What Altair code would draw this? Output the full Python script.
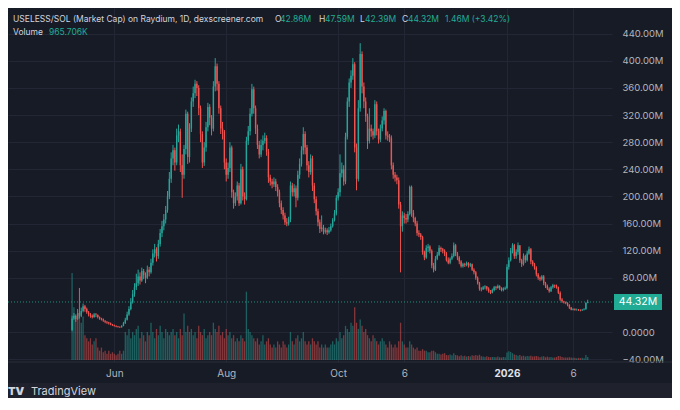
import altair as alt
import pandas as pd

# ---------------- data ----------------
FIRST_OPEN = 3.0
closes = [
    20, 24, 19, 28, 24, 31, 38, 34, 29, 26,
    24, 22, 26, 25, 22, 20, 19, 17, 15, 14,
    13, 11, 10, 9, 8, 7.5, 7, 9, 13, 18,
    26, 34, 44, 56, 66, 72, 82, 76, 90, 84,
    80, 92, 88, 102, 116, 122, 112, 130, 146, 156,
    166, 180, 200, 226, 256, 268, 250, 290, 296, 246,
    232, 270, 322, 258, 300, 340, 352, 366, 360, 330,
    292, 250, 272, 302, 332, 316, 300, 362, 392, 366,
    330, 300, 296, 250, 232, 242, 272, 206, 190, 200,
    216, 190, 240, 200, 196, 282, 296, 322, 358, 330,
    300, 276, 262, 276, 282, 286, 266, 228, 222, 218,
    222, 214, 206, 190, 180, 172, 162, 160, 166, 216,
    206, 212, 198, 232, 248, 268, 292, 272, 246, 236,
    256, 216, 196, 178, 162, 152, 154, 148, 150, 147,
    150, 156, 165, 175, 198, 206, 234, 240, 222, 288,
    340, 368, 378, 395, 272, 226, 330, 410, 362, 340,
    318, 282, 300, 296, 290, 336, 296, 284, 300, 312,
    326, 290, 288, 286, 246, 232, 228, 224, 188, 156,
    172, 168, 166, 174, 214, 176, 168, 160, 146, 144,
    140, 118, 110, 124, 126, 120, 98, 92, 108, 114,
    124, 122, 120, 116, 106, 102, 108, 112, 128, 116,
    110, 104, 97, 100, 99, 102, 98, 100, 92, 88,
    80, 72, 64, 63, 66, 67, 64, 60, 58, 62,
    66, 65, 68, 65, 62, 64, 65, 96, 106, 120,
    128, 112, 118, 128, 106, 100, 112, 106, 116, 122,
    104, 100, 95, 85, 80, 78, 82, 72, 68, 64,
    60, 66, 69, 68, 66, 58, 48, 45, 44, 43,
    40, 36, 33, 34, 33, 33, 32.5, 32, 33, 33.5,
    42.86, 44.32,
]
highs = [
    24, 28, 26, 34, 65, 36, 42, 40, 36, 31,
    28, 26, 28, 28, 26, 23, 21, 20, 17, 16,
    15, 14, 12, 11, 10, 9, 8.5, 10, 15, 21,
    30, 38, 50, 62, 72, 86, 92, 88, 95, 93,
    88, 98, 96, 108, 122, 130, 125, 136, 152, 164,
    174, 186, 208, 236, 265, 276, 272, 300, 306, 300,
    262, 276, 328, 325, 308, 346, 362, 372, 370, 364,
    334, 296, 280, 310, 338, 336, 320, 370, 404, 396,
    370, 334, 310, 298, 256, 250, 280, 275, 210, 206,
    222, 220, 248, 244, 206, 288, 304, 330, 366, 362,
    334, 306, 282, 284, 290, 294, 290, 270, 232, 226,
    228, 226, 218, 210, 194, 184, 176, 168, 170, 222,
    220, 218, 216, 238, 256, 274, 302, 296, 276, 252,
    262, 260, 220, 200, 182, 166, 172, 158, 154, 153,
    155, 160, 168, 180, 202, 212, 262, 250, 246, 294,
    346, 374, 386, 404, 398, 278, 342, 426, 414, 368,
    346, 322, 330, 306, 300, 342, 340, 300, 306, 318,
    330, 328, 296, 292, 290, 250, 236, 232, 228, 192,
    178, 176, 174, 178, 216, 216, 180, 170, 164, 150,
    146, 142, 120, 128, 130, 128, 122, 102, 112, 118,
    128, 126, 124, 122, 118, 110, 110, 116, 132, 130,
    118, 112, 106, 102, 102, 104, 103, 102, 101, 94,
    90, 82, 74, 66, 68, 69, 68, 66, 62, 64,
    68, 68, 70, 69, 66, 66, 67, 100, 110, 124,
    131, 130, 122, 132, 128, 108, 116, 114, 120, 126,
    124, 106, 102, 97, 87, 82, 84, 84, 74, 70,
    66, 68, 71, 70, 70, 67, 60, 50, 46, 45,
    44, 41, 37, 35, 35, 34.5, 34, 33.5, 34, 35,
    44, 47.59,
]
lows = [
    1, 18, 15, 18, 20, 22, 29, 30, 27, 23,
    21, 20, 21, 22, 20, 18, 17, 15, 13, 12,
    11, 10, 9, 8, 7, 6.5, 6, 6.5, 8.5, 12,
    17, 24, 32, 42, 52, 62, 68, 70, 74, 78,
    72, 78, 82, 86, 98, 110, 104, 108, 126, 140,
    150, 160, 176, 196, 220, 246, 238, 246, 280, 236,
    198, 226, 262, 248, 250, 295, 332, 345, 348, 320,
    280, 242, 245, 266, 296, 305, 290, 296, 355, 356,
    322, 292, 284, 240, 222, 226, 236, 198, 182, 186,
    194, 186, 188, 194, 188, 194, 276, 290, 318, 322,
    292, 270, 256, 258, 268, 278, 260, 220, 216, 212,
    214, 208, 200, 184, 174, 166, 158, 156, 157, 162,
    200, 200, 184, 194, 226, 244, 262, 262, 238, 228,
    232, 208, 190, 172, 156, 146, 148, 144, 145, 143,
    145, 148, 154, 163, 172, 194, 200, 228, 216, 218,
    284, 332, 360, 372, 265, 209, 222, 325, 352, 330,
    310, 270, 278, 288, 284, 286, 290, 278, 280, 296,
    306, 284, 282, 280, 240, 226, 222, 218, 182, 88,
    148, 160, 160, 162, 172, 170, 162, 156, 142, 140,
    136, 114, 106, 108, 118, 116, 94, 88, 90, 106,
    112, 118, 116, 112, 104, 100, 100, 106, 110, 112,
    106, 100, 95, 95, 96, 97, 95, 96, 90, 85,
    77, 70, 61, 60, 62, 63, 61, 58, 56, 57,
    60, 62, 64, 62, 60, 60, 62, 63, 92, 104,
    116, 108, 108, 114, 102, 96, 98, 102, 104, 114,
    100, 97, 92, 82, 77, 75, 76, 69, 65, 62,
    58, 59, 64, 65, 64, 56, 46, 43, 42, 41,
    38, 34, 32, 32, 31.5, 31.5, 31, 30.5, 31, 32,
    33, 42.39,
]
volumes = [
    28, 17, 13, 15, 16, 12, 14, 8, 7, 6,
    7, 5, 6, 7, 4, 3, 4, 2.5, 3, 2,
    3, 2, 2.5, 2, 1.5, 2, 3, 2, 3, 9,
    8, 10, 7, 9, 8, 10, 11, 7, 9, 8,
    6, 9, 8, 12, 9, 7, 10, 8, 11, 9,
    7, 10, 9, 8, 9, 10, 8, 9, 7, 10,
    8, 15, 9, 11, 9, 10, 8, 9, 7, 11,
    9, 8, 10, 7, 8, 9, 8, 12, 10, 9,
    11, 8, 9, 7, 10, 8, 9, 7, 8, 6,
    7, 6, 8, 7, 6, 22, 10, 9, 8, 7,
    6, 7, 5, 6, 8, 5, 6, 7, 5, 4,
    5, 4, 6, 5, 4, 6, 5, 4, 5, 9,
    6, 5, 7, 8, 6, 7, 9, 6, 5, 6,
    5, 7, 6, 5, 6, 4, 5, 4, 5, 4,
    4, 5, 6, 5, 7, 6, 9, 7, 8, 11,
    10, 9, 12, 11, 17, 12, 10, 13, 11, 9,
    10, 8, 7, 6, 8, 7, 6, 5, 6, 7,
    6, 5, 4, 6, 5, 4, 5, 4, 6, 12,
    6, 5, 4, 4, 6, 5, 4, 3.5, 4, 3,
    3, 3.5, 3, 3, 2.5, 2.5, 3, 3, 2.5, 2,
    2, 1.8, 2, 2.2, 1.6, 1.5, 1.8, 1.5, 2.2, 1.6,
    1.5, 1.2, 1.5, 1.2, 1.4, 1.1, 1.3, 1.1, 1.5, 1.4,
    1.6, 1.4, 1.7, 1.2, 1.1, 1.0, 1.2, 1.0, 0.9, 1.0,
    1.0, 0.9, 1.1, 0.9, 0.8, 1.0, 0.9, 2.4, 2.8, 2.6,
    2.2, 1.8, 1.6, 1.4, 1.6, 1.2, 1.4, 1.1, 1.3, 1.2,
    1.4, 1.1, 1.2, 1.3, 1.1, 0.9, 1.1, 1.2, 0.9, 1.1,
    0.9, 1.0, 0.8, 0.8, 1.0, 1.3, 1.2, 1.0, 0.8, 0.8,
    0.8, 0.9, 0.8, 0.7, 0.7, 0.6, 0.7, 0.6, 0.7, 0.6,
    1.6, 0.97,
]

# time axis: day index 0 = first candle (9 May 2025)
tick_days = [23, 84, 145, 181, 237, 273]
tick_labels = ["Jun", "Aug", "Oct", "6", "2026", "6"]
# the 40M label sits under the last-price badge, so it is not shown
price_ticks = [-40, 0, 80, 120, 160, 200, 240, 280, 320, 360, 400, 440]

header_text = ["USELESS/SOL (Market Cap) on Raydium, 1D, dexscreener.com",
               "O", "42.86M", "H", "47.59M", "L", "42.39M", "C", "44.32M",
               "1.46M (+3.42%)", "Volume", "965.706K"]
LAST = closes[-1]

# ---------------- styling ----------------
PANE = "#171b26"
FRAME = "#1f222c"
GRID = "#232735"
TEXT = "#d1d4dc"
AXIS_TEXT = "#b2b5be"
UP = "#26a69a"
DOWN = "#ef5350"
VALUE = "#22ab94"
FONT = "Inter"

W, H = 604, 354
X_DOMAIN = [-32.2, 291.5]
Y_DOMAIN = [-44.2, 477.9]
VOL_DOMAIN = [-0.64, 113.3]

opens = [FIRST_OPEN] + closes[:-1]
df = pd.DataFrame({
    "d": list(range(len(closes))),
    "open": opens, "close": closes, "high": highs, "low": lows, "vol": volumes,
})
df["dir"] = ["up" if c >= o else "down" for o, c in zip(opens, closes)]

label_expr = "''"
for dv, lab in reversed(list(zip(tick_days, tick_labels))):
    label_expr = f"datum.value == {dv} ? '{lab}' : ({label_expr})"

x_axis = alt.Axis(
    values=tick_days, labelExpr=label_expr, grid=True, gridColor=GRID,
    gridWidth=1, domain=False, ticks=False,
    labelColor={"condition": {"test": "datum.value == 237", "value": "#e0e3eb"},
                "value": AXIS_TEXT},
    labelFontWeight={"condition": {"test": "datum.value == 237", "value": "bold"},
                     "value": "normal"},
    labelFontSize=10, labelFont=FONT, labelPadding=6, title=None,
    labelFlush=False, labelOverlap=False)
x_enc = alt.X("d:Q", scale=alt.Scale(domain=X_DOMAIN, nice=False, zero=False), axis=x_axis)

y_scale = alt.Scale(domain=Y_DOMAIN, nice=False, zero=False)
y_axis = alt.Axis(
    orient="right", values=price_ticks,
    labelExpr="datum.value == 0 ? '0.0000' : format(datum.value, '.2f') + 'M'",
    grid=True, gridColor=GRID, gridWidth=1, domain=False, ticks=False,
    labelColor=AXIS_TEXT, labelFontSize=9.5, labelFont=FONT,
    labelPadding=10, labelAlign="left", labelBaseline="middle",
    title=None, labelFlush=False, labelOverlap=False)

color_enc = alt.Color("dir:N", scale=alt.Scale(domain=["up", "down"], range=[UP, DOWN]),
                      legend=None)

base = alt.Chart(df)

vol = base.mark_bar(size=1.3, opacity=0.5, strokeWidth=0).encode(
    x=x_enc,
    y=alt.Y("vol:Q", scale=alt.Scale(domain=VOL_DOMAIN, nice=False, zero=False), axis=None),
    color=color_enc,
)

wicks = base.mark_rule(strokeWidth=1).encode(
    x=x_enc,
    y=alt.Y("low:Q", scale=y_scale, axis=y_axis),
    y2="high:Q",
    color=color_enc,
)
bodies = base.mark_bar(size=1.4, strokeWidth=0).encode(
    x=x_enc, y=alt.Y("open:Q", scale=y_scale, axis=y_axis), y2="close:Q", color=color_enc,
)

one = pd.DataFrame({"k": [0]})
px_per_unit = H / (Y_DOMAIN[1] - Y_DOMAIN[0])
half = 8 / px_per_unit
price_line = alt.Chart(one).mark_rule(color=VALUE, strokeDash=[1, 2], strokeWidth=1,
                                      opacity=0.8).encode(
    y=alt.YDatum(LAST, scale=y_scale, axis=y_axis))
label_box = alt.Chart(one).mark_rect(color=VALUE).encode(
    x=alt.value(606), x2=alt.value(654),
    y=alt.YDatum(LAST + half, scale=y_scale, axis=y_axis), y2=alt.datum(LAST - half))
label_txt = alt.Chart(one).mark_text(color="#ffffff", fontSize=10.5, font=FONT,
                                     align="center", baseline="middle").encode(
    x=alt.value(630), y=alt.YDatum(LAST, scale=y_scale, axis=y_axis),
    text=alt.value(f"{LAST:.2f}M"))

price = alt.layer(wicks, bodies, price_line, label_box, label_txt)
main = alt.layer(vol, price).resolve_scale(y="independent")

# header legend
header_x = [5, 267, 272, 311, 317, 352, 357, 394, 400, 437, 5, 41]
header_y = [11] * 10 + [24, 24]
header_color = [TEXT, TEXT, VALUE, TEXT, VALUE, TEXT, VALUE, TEXT, VALUE, VALUE, TEXT, VALUE]
hdr = pd.DataFrame({"t": header_text, "px": header_x, "py": header_y, "c": header_color})
header = alt.Chart(hdr).mark_text(align="left", baseline="middle", fontSize=8.5,
                                  font=FONT).encode(
    x=alt.X("px:Q", scale=None), y=alt.Y("py:Q", scale=None),
    text="t:N", color=alt.Color("c:N", scale=None))

sep = alt.Chart(one).mark_rule(color="#2a2e39", strokeWidth=1).encode(
    x=alt.value(0), x2=alt.value(664), y=alt.value(354))
strip = alt.Chart(one).mark_rect(color=FRAME).encode(
    x=alt.value(-2), x2=alt.value(664), y=alt.value(375), y2=alt.value(392))
logo_mark = alt.Chart(one).mark_text(color=TEXT, fontSize=11, font=FONT, fontWeight=900,
                                     align="left", baseline="middle").encode(
    x=alt.value(0), y=alt.value(384), text=alt.value("TV"))
logo_txt = alt.Chart(one).mark_text(color=TEXT, fontSize=11, font=FONT,
                                    align="left", baseline="middle").encode(
    x=alt.value(23), y=alt.value(384), text=alt.value("TradingView"))

chart = alt.layer(main, header, sep, strip, logo_mark, logo_txt).properties(
    width=W, height=H,
    autosize=alt.AutoSizeParams(type="none"),
    padding={"left": 0, "top": 0, "right": 60, "bottom": 36},
    background=PANE,
).configure_view(strokeWidth=0, fill=PANE)

chart.save("out.html", embed_options={"renderer": "svg", "actions": False})
